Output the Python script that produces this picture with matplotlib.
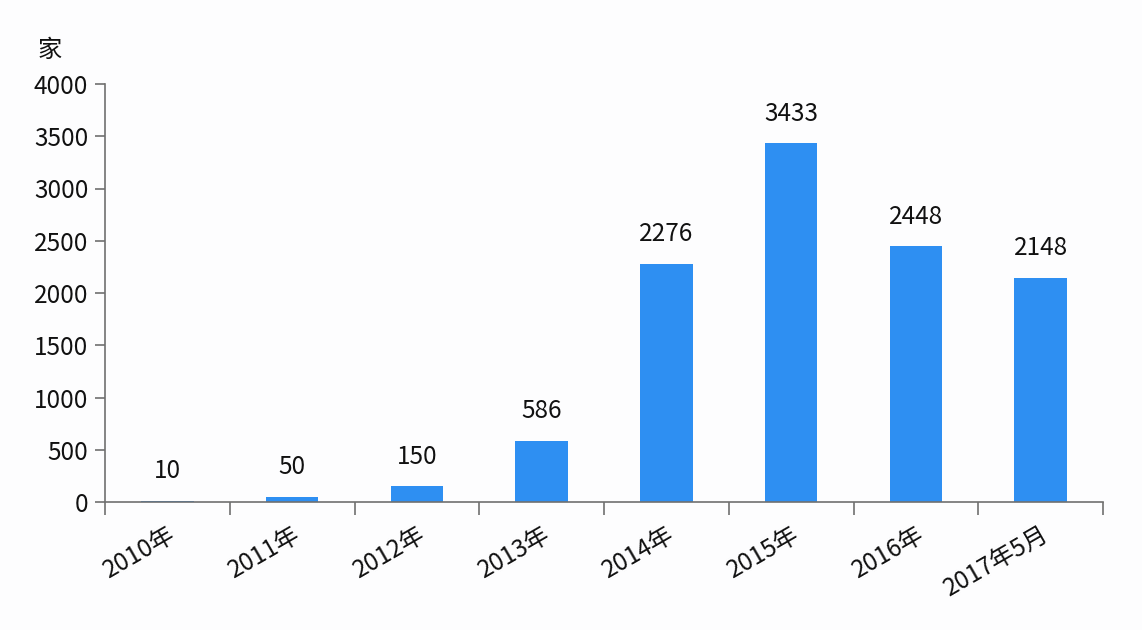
import matplotlib
matplotlib.use("Agg")
import matplotlib.pyplot as plt
import numpy as np

categories = ["2010年", "2011年", "2012年", "2013年", "2014年", "2015年", "2016年", "2017年5月"]
values = [10, 50, 150, 586, 2276, 3433, 2448, 2148]
yticks = [0, 500, 1000, 1500, 2000, 2500, 3000, 3500, 4000]
unit_label = "家"

plt.rcParams['font.family'] = ['Noto Sans CJK SC', 'DejaVu Sans']

bg = "#FDFDFE"
fig = plt.figure(figsize=(11.42, 6.30), dpi=100, facecolor=bg)
ax = fig.add_axes([105/1142, 1-502/630, (1103-105)/1142, (502-84)/630], facecolor=bg)

x = np.arange(len(categories))
bars = ax.bar(x, values, width=0.42, color="#2E8FF2", zorder=2)

for xi, v in zip(x, values):
    ax.annotate(str(v), (xi, v), xytext=(0, 12), textcoords="offset points",
                ha="center", va="bottom", fontsize=17.5, color="#111111")

ax.set_xlim(-0.5, len(categories) - 0.5)
ax.set_ylim(0, 4000)
ax.set_yticks(yticks)
ax.set_yticklabels([str(t) for t in yticks], fontsize=17.5, color="#111111")

ax.set_xticks(np.arange(-0.5, len(categories), 1.0), minor=False)
ax.set_xticklabels([])
ax.set_xticks(x, minor=True)
ax.set_xticklabels(categories, minor=True, rotation=30, ha="right",
                   rotation_mode="anchor", fontsize=17.5, color="#111111")
ax.tick_params(axis="x", which="minor", length=0, pad=14)
ax.tick_params(axis="x", which="major", length=9, width=1.2, color="#707070", direction="out")
ax.tick_params(axis="y", length=7, width=1.2, color="#707070", direction="out", pad=5)

for s in ["top", "right"]:
    ax.spines[s].set_visible(False)
for s in ["left", "bottom"]:
    ax.spines[s].set_color("#707070")
    ax.spines[s].set_linewidth(1.2)

fig.text(50/1142, 1-50/630, unit_label, fontsize=17.5, ha="center", va="center", color="#111111")

fig.savefig("out.png", dpi=100, facecolor=bg)
